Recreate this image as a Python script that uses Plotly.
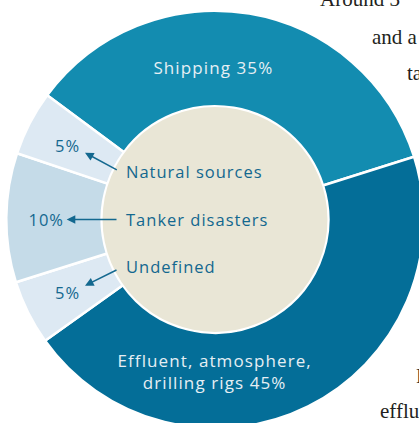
import plotly.graph_objects as go

# ---- data ----
categories = ["Shipping", "Effluent, atmosphere, drilling rigs", "Undefined",
              "Tanker disasters", "Natural sources"]
ring_labels = ["Shipping", "Effluent, atmosphere,<br>drilling rigs", "Undefined",
               "Tanker disasters", "Natural sources"]
values = [35, 45, 5, 10, 5]
colors = ["#138cb0", "#046e98", "#dde9f3", "#c5dbe8", "#dde9f3"]
body_lines = ["Around 3", "and a", "ta", "P", "efflu"]

# ---- layout constants (pixels) ----
W, H = 425, 440
CX, CY = 215.0, 219.5
LW = 2.5
R_OUT = 207.5 + LW / 2
R_IN = 114.5 - LW / 2
R_DISC = 112.4


def px(x):
    return x / W


def py(y):
    return 1 - y / H


def dom(r):
    return dict(x=[px(CX - r), px(CX + r)], y=[py(CY + r), py(CY - r)])


fig = go.Figure()
fig.add_trace(go.Pie(
    labels=categories, values=values, sort=False, direction="clockwise",
    rotation=-53.5, hole=R_IN / R_OUT, domain=dom(R_OUT),
    marker=dict(colors=colors, line=dict(color="white", width=LW)),
    textinfo="none", hoverinfo="label+percent", showlegend=False,
))
fig.add_trace(go.Pie(
    labels=["centre"], values=[1], sort=False, domain=dom(R_DISC),
    marker=dict(colors=["#e9e6d6"], line=dict(width=0)),
    textinfo="none", hoverinfo="skip", showlegend=False,
))

LABEL_FONT = "Open Sans"
DARK = "#13688f"
LIGHT = "#e6eff4"

ann = []
# white labels in the ring
ann.append(dict(x=px(213.5), y=py(67), text=f"{ring_labels[0]} {values[0]}%",
                font=dict(family=LABEL_FONT, size=17, color=LIGHT), name="wide"))
ann.append(dict(x=px(214), y=py(371.5), text=f"{ring_labels[1]} {values[1]}%",
                font=dict(family=LABEL_FONT, size=17, color=LIGHT), name="wide"))
# percentages of the small slices
for idx, (x, y) in zip([4, 3, 2], [(67.5, 145.7), (46.5, 219.3), (67.5, 292.3)]):
    ann.append(dict(x=px(x), y=py(y), text=f"{values[idx]}%",
                    font=dict(family=LABEL_FONT, size=16.5, color=DARK), name="spaced"))
# names inside the centre disc
for idx, y in zip([4, 3, 2], [171.7, 219.3, 266.7]):
    ann.append(dict(x=px(123.5), y=py(y), text=ring_labels[idx], xanchor="left",
                    align="left", name="spaced",
                    font=dict(family=LABEL_FONT, size=16.5, color=DARK)))
for a in ann:
    a.update(xref="paper", yref="paper", showarrow=False, yanchor="middle",
             xanchor=a.get("xanchor", "center"))
# arrows (tip, tail offset)
for (tx, ty), (ox, oy) in [((85, 152.7), (33.3, 18)), ((66.7, 219.5), (51.3, 0)),
                           ((85, 285.7), (33, -16.4))]:
    ann.append(dict(x=px(tx), y=py(ty), xref="paper", yref="paper", text="",
                    showarrow=True, ax=ox, ay=oy, arrowhead=2, arrowsize=1.15,
                    arrowwidth=1.5, arrowcolor=DARK, standoff=0, startstandoff=0))
# cropped body text on the right
for t, (x, base) in zip(body_lines, [(317.5, 8.3), (369.7, 45.7), (405.3, 81.7),
                                     (413.5, 385), (377.5, 420)]):
    ann.append(dict(x=px(x), y=py(base), xref="paper", yref="paper", text=t,
                    showarrow=False, xanchor="left", yanchor="bottom", yshift=-5,
                    font=dict(family="Liberation Serif", size=21, color="#231f20")))

fig.update_layout(
    width=W, height=H, margin=dict(l=0, r=0, t=0, b=0),
    paper_bgcolor="white", plot_bgcolor="white", annotations=ann,
)

post = (
    "document.body.style.margin='0';document.body.style.overflow='hidden';"
    "var gd=document.getElementById('{plot_id}');"
    "var anns=gd.querySelectorAll('.annotation');"
    "var lay=gd.layout.annotations;"
    "for(var i=0;i<anns.length;i++)"
    "(function(el){var k=+el.getAttribute('data-index');var nm=lay[k]&&lay[k].name;"
    "var t=el.querySelector('.annotation-text');if(!t)return;"
    "if(nm==='wide')t.style.letterSpacing='1.1px';"
    "if(nm==='spaced')t.style.letterSpacing='1px';})(anns[i]);"
)

fig.write_html("out.html", post_script=post, config=dict(displayModeBar=False))
